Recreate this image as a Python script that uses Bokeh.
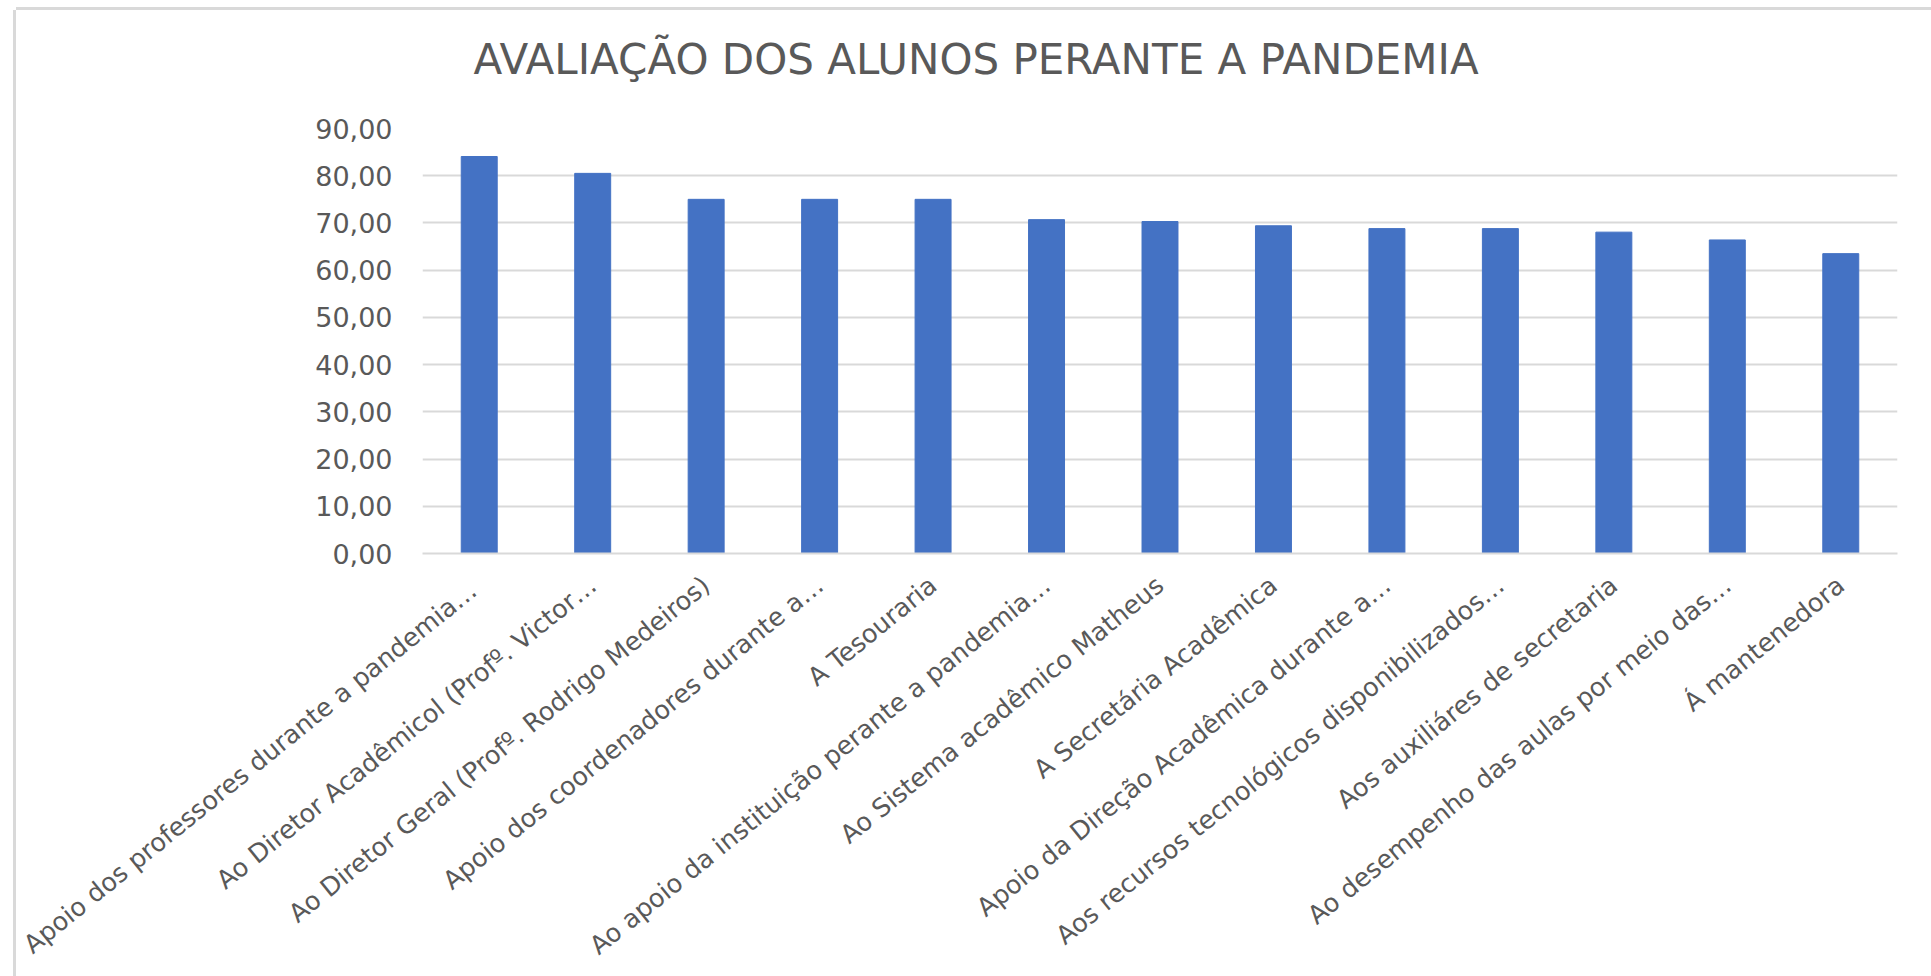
import math
from bokeh.plotting import figure
from bokeh.models import FactorRange, Range1d, FixedTicker
from bokeh.embed import file_html
from bokeh.resources import INLINE

title_text = "AVALIAÇÃO DOS ALUNOS PERANTE A PANDEMIA"

categories = [
    "Apoio  dos professores durante a pandemia…",
    "Ao Diretor Acadêmicol (Profº. Victor…",
    "Ao Diretor Geral (Profº. Rodrigo Medeiros)",
    "Apoio dos coordenadores durante a…",
    "A Tesouraria",
    "Ao apoio da instituição perante a pandemia…",
    "Ao Sistema acadêmico Matheus",
    "A Secretária Acadêmica",
    "Apoio da Direção Acadêmica durante a…",
    "Aos recursos tecnológicos disponibilizados…",
    "Aos auxiliáres de secretaria",
    "Ao desempenho das aulas por meio das…",
    "Á mantenedora",
]
values = [84.07, 80.5, 75.0, 75.0, 75.0, 70.7, 70.3, 69.4, 68.8, 68.8, 68.05, 66.4, 63.5]

y_ticks = [0, 10, 20, 30, 40, 50, 60, 70, 80, 90]
y_tick_labels = ["0,00", "10,00", "20,00", "30,00", "40,00", "50,00", "60,00", "70,00", "80,00", "90,00"]

FONT = "DejaVu Sans"
TXT = "#595959"
GRID = "#d9d9d9"

p = figure(
    width=1915, height=966,
    x_range=FactorRange(*categories),
    y_range=Range1d(0, 90),
    output_backend="svg", toolbar_location=None,
    min_border_left=406, min_border_right=34,
    min_border_top=118, min_border_bottom=423,
    styles={"box-shadow": "0 -3px 0 0 #d9d9d9, -3px 0 0 0 #d9d9d9",
            "margin-left": "16px", "margin-top": "10px"},
)
p.outline_line_color = None
p.background_fill_color = "white"
p.border_fill_color = "white"

p.title.text = title_text
p.title.align = "left"
p.title.offset = 51
p.title.standoff = 0
p.title.padding = dict(left=0, right=0, top=0, bottom=45)
p.title.text_font = FONT
p.title.text_font_size = "42px"
p.title.text_font_style = "normal"
p.title.text_color = TXT

p.vbar(x=categories, top=values, width=0.317, color="#4472c4")

# y axis
p.yaxis.ticker = FixedTicker(ticks=y_ticks)
p.yaxis.major_label_overrides = {t: l for t, l in zip(y_ticks, y_tick_labels)}
p.yaxis.axis_line_color = None
p.yaxis.major_tick_line_color = None
p.yaxis.minor_tick_line_color = None
p.yaxis.major_label_standoff = 24
p.yaxis.major_label_text_font = FONT
p.yaxis.major_label_text_font_size = "27px"
p.yaxis.major_label_text_color = TXT

p.ygrid.ticker = FixedTicker(ticks=y_ticks)
p.ygrid.grid_line_color = GRID
p.ygrid.grid_line_width = 2
p.xgrid.grid_line_color = None

# x axis
p.xaxis.axis_line_color = GRID
p.xaxis.axis_line_width = 2
p.xaxis.major_tick_line_color = None
p.xaxis.minor_tick_line_color = None
p.xaxis.major_label_orientation = math.radians(39)
p.xaxis.major_label_standoff = 22
p.xaxis.major_label_text_font = FONT
p.xaxis.major_label_text_font_size = "25.5px"
p.xaxis.major_label_text_color = TXT

open("out.html", "w").write(file_html(p, INLINE))
